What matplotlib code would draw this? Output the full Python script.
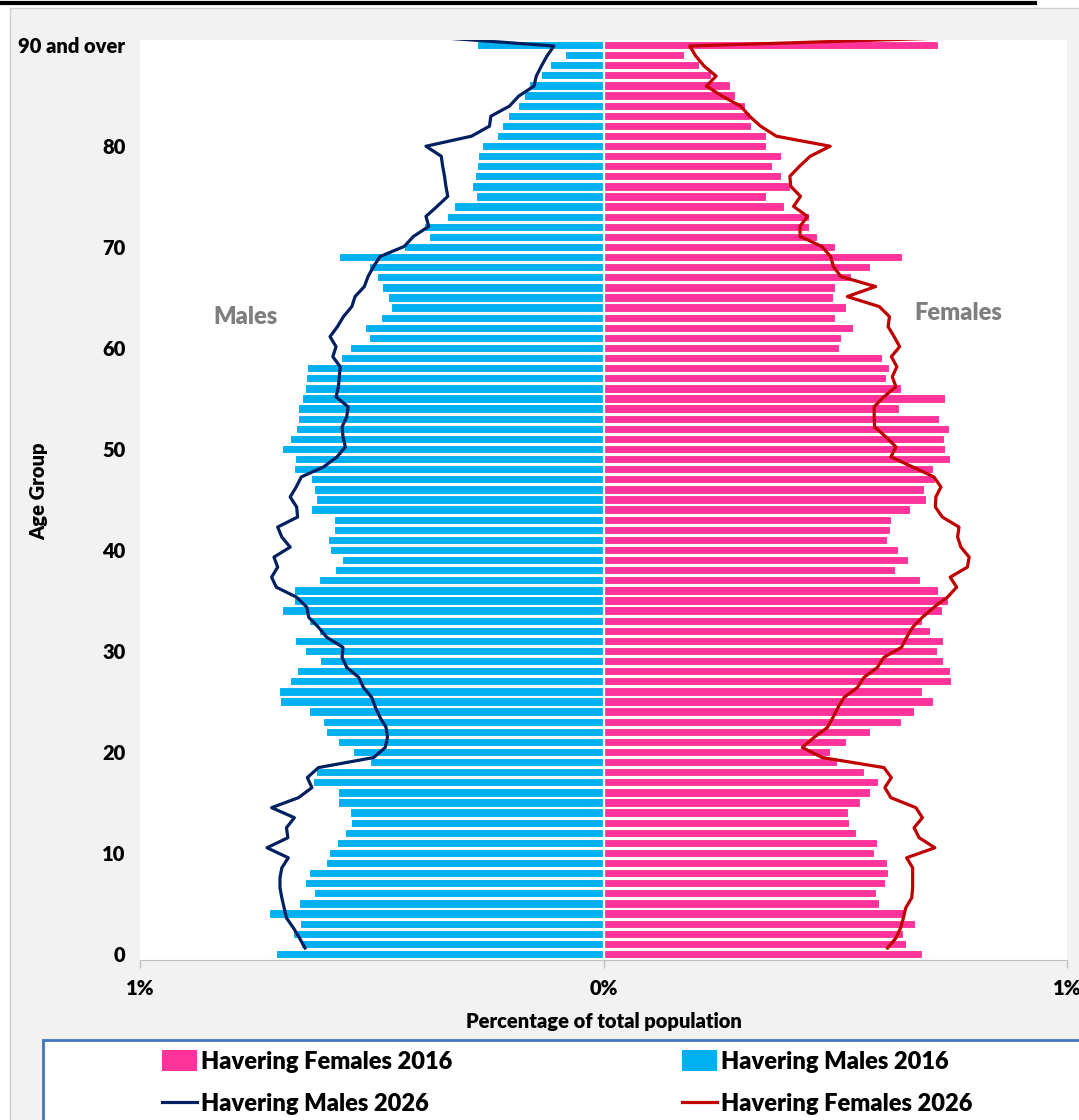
import numpy as np
import matplotlib
matplotlib.use("Agg")
import matplotlib.pyplot as plt
from matplotlib.patches import Rectangle, Patch
from matplotlib.lines import Line2D

plt.rcParams['font.family'] = ['Lato', 'DejaVu Sans']
BOLD = 'heavy'

# single years of age, 0 .. 90 (90 = "90 and over")
ages = np.arange(0, 91)

# % of total population, Havering 2016 (bars)
males_2016 = [0.706, 0.653, 0.669, 0.654, 0.721, 0.657, 0.624, 0.645, 0.635, 0.598,
              0.592, 0.576, 0.557, 0.544, 0.547, 0.572, 0.572, 0.627, 0.621, 0.503,
              0.540, 0.572, 0.598, 0.606, 0.635, 0.698, 0.700, 0.676, 0.662, 0.611,
              0.644, 0.665, 0.613, 0.636, 0.693, 0.667, 0.667, 0.613, 0.579, 0.564,
              0.590, 0.595, 0.582, 0.582, 0.631, 0.621, 0.625, 0.631, 0.667, 0.665,
              0.693, 0.677, 0.664, 0.660, 0.660, 0.650, 0.644, 0.641, 0.639, 0.567,
              0.547, 0.505, 0.515, 0.481, 0.459, 0.466, 0.477, 0.488, 0.505, 0.570,
              0.431, 0.377, 0.387, 0.338, 0.323, 0.276, 0.284, 0.277, 0.274, 0.271,
              0.262, 0.230, 0.218, 0.207, 0.184, 0.172, 0.161, 0.135, 0.115, 0.084,
              0.272]
females_2016 = [0.688, 0.652, 0.646, 0.673, 0.648, 0.594, 0.587, 0.607, 0.613, 0.611,
                0.583, 0.590, 0.544, 0.529, 0.528, 0.553, 0.575, 0.592, 0.562, 0.503,
                0.488, 0.523, 0.575, 0.641, 0.670, 0.711, 0.688, 0.749, 0.747, 0.732,
                0.719, 0.732, 0.704, 0.688, 0.731, 0.744, 0.721, 0.683, 0.629, 0.657,
                0.636, 0.611, 0.619, 0.621, 0.662, 0.695, 0.692, 0.716, 0.711, 0.747,
                0.737, 0.734, 0.746, 0.724, 0.637, 0.736, 0.641, 0.609, 0.617, 0.600,
                0.509, 0.513, 0.539, 0.500, 0.523, 0.495, 0.500, 0.535, 0.575, 0.643,
                0.500, 0.460, 0.443, 0.443, 0.389, 0.350, 0.402, 0.383, 0.363, 0.382,
                0.350, 0.351, 0.319, 0.315, 0.305, 0.283, 0.273, 0.232, 0.207, 0.173,
                0.722]

# projections 2026 (lines); the series runs one step past the top of the chart
line_ages = np.arange(0, 92)
males_2026 = [0.644, 0.656, 0.669, 0.684, 0.689, 0.694, 0.698, 0.698, 0.694, 0.680,
              0.726, 0.681, 0.684, 0.667, 0.716, 0.658, 0.629, 0.639, 0.615, 0.496,
              0.471, 0.466, 0.469, 0.482, 0.492, 0.500, 0.518, 0.528, 0.554, 0.564,
              0.562, 0.597, 0.615, 0.636, 0.640, 0.662, 0.706, 0.716, 0.703, 0.711,
              0.676, 0.694, 0.703, 0.660, 0.662, 0.676, 0.663, 0.652, 0.604, 0.575,
              0.557, 0.562, 0.564, 0.554, 0.551, 0.577, 0.572, 0.570, 0.568, 0.584,
              0.577, 0.590, 0.574, 0.561, 0.543, 0.536, 0.516, 0.508, 0.496, 0.482,
              0.430, 0.410, 0.377, 0.383, 0.359, 0.336, 0.340, 0.343, 0.347, 0.350,
              0.383, 0.285, 0.246, 0.243, 0.203, 0.183, 0.150, 0.145, 0.134, 0.122,
              0.107, 0.400]
females_2026 = [0.613, 0.631, 0.641, 0.647, 0.652, 0.665, 0.667, 0.667, 0.667, 0.654,
                0.715, 0.681, 0.670, 0.688, 0.674, 0.620, 0.607, 0.621, 0.605, 0.472,
                0.429, 0.454, 0.483, 0.495, 0.506, 0.519, 0.548, 0.562, 0.591, 0.605,
                0.643, 0.654, 0.667, 0.688, 0.713, 0.742, 0.762, 0.748, 0.785, 0.789,
                0.771, 0.764, 0.767, 0.731, 0.716, 0.717, 0.728, 0.713, 0.667, 0.620,
                0.631, 0.609, 0.585, 0.584, 0.584, 0.605, 0.631, 0.623, 0.633, 0.621,
                0.639, 0.627, 0.614, 0.617, 0.595, 0.526, 0.587, 0.512, 0.496, 0.490,
                0.471, 0.424, 0.424, 0.440, 0.410, 0.425, 0.404, 0.402, 0.423, 0.446,
                0.489, 0.373, 0.339, 0.315, 0.296, 0.256, 0.222, 0.243, 0.217, 0.199,
                0.186, 0.870]

ytick_vals = [0, 10, 20, 30, 40, 50, 60, 70, 80, 90]
ytick_labels = ['0', '10', '20', '30', '40', '50', '60', '70', '80', '90 and over']
xtick_vals = [-1, 0, 1]
xtick_labels = ['1%', '0%', '1%']

c_m16 = '#00b0f0'
c_f16 = '#ff3399'
c_m26 = '#002060'
c_f26 = '#c00000'

W, H = 1079, 1120
fig = plt.figure(figsize=(W / 100, H / 100), dpi=100)
fig.patch.set_facecolor('white')

# grey chart background + cut-off rule of the page above
fig.add_artist(Rectangle((10 / W, -0.01), 1.0, (H - 8) / H + 0.01, transform=fig.transFigure,
                         facecolor='#f2f2f2', edgecolor='#d0d0d0', lw=1, zorder=0))
fig.add_artist(Line2D([0, 1035 / W], [1 - 2.5 / H, 1 - 2.5 / H], color='black', lw=3,
                      transform=fig.transFigure))

ax = fig.add_axes([140 / W, 160 / H, 927 / W, 920 / H])
ax.set_facecolor('white')

ax.barh(ages, -np.array(males_2016), height=0.82, color=c_m16, edgecolor='white', linewidth=0.8)
ax.barh(ages, females_2016, height=0.82, color=c_f16, edgecolor='white', linewidth=0.8)
ax.axvline(0, color='white', lw=1.6, zorder=3)

ax.set_xlim(-1, 1)
ax.set_ylim(-0.6, 90.5)

ax.set_yticks(ytick_vals)
ax.set_yticklabels(ytick_labels, fontsize=14.5, fontweight=BOLD)
ax.tick_params(axis='y', length=0, pad=10.5)
ax.set_xticks(xtick_vals)
ax.set_xticklabels(xtick_labels, fontsize=14.5, fontweight=BOLD)
ax.tick_params(axis='x', length=6, width=1, color='#bfbfbf', pad=8)

for s in ['top', 'left', 'right']:
    ax.spines[s].set_visible(False)
ax.spines['bottom'].set_color('#bfbfbf')

ax.set_ylabel('Age Group', fontsize=14.5, fontweight=BOLD)
ax.yaxis.set_label_coords(-0.099, 0.51)
ax.set_xlabel('Percentage of total population', fontsize=14.5, fontweight=BOLD)
ax.xaxis.set_label_coords(0.5, -0.057)

ax.text(-0.772, 63.1, 'Males', color='#7f7f7f', fontsize=17, fontweight=BOLD,
        ha='center', va='center')
ax.text(0.766, 63.5, 'Females', color='#7f7f7f', fontsize=17, fontweight=BOLD,
        ha='center', va='center')

# 2026 lines sit on a secondary axis, as in the source workbook
ax2 = ax.twinx()
ax2.set_ylim(-1.2, 90.6)
ax2.set_axis_off()
ax2.plot(-np.array(males_2026), line_ages, color=c_m26, lw=2.3)
ax2.plot(females_2026, line_ages, color=c_f26, lw=2.3)

# legend box, running off the bottom right of the picture
fig.add_artist(Rectangle((43 / W, -0.02), 1.0, 80 / H + 0.02, transform=fig.transFigure,
                         facecolor='white', edgecolor='#4472c4', lw=2, zorder=1))

h_f16 = Patch(facecolor=c_f16, edgecolor='none', label='Havering Females 2016')
h_m16 = Patch(facecolor=c_m16, edgecolor='none', label='Havering Males 2016')
h_m26 = Line2D([], [], color=c_m26, lw=2.3, label='Havering Males 2026')
h_f26 = Line2D([], [], color=c_f26, lw=2.3, label='Havering Females 2026')

leg_kw = dict(loc='upper left', frameon=False, borderpad=0, borderaxespad=0,
              handlelength=1.5, handleheight=1.0, handletextpad=0.15, labelspacing=0.85,
              prop={'size': 17, 'weight': BOLD})
leg1 = fig.legend(handles=[h_f16, h_m26], bbox_to_anchor=(162 / W, (H - 1050) / H), **leg_kw)
leg2 = fig.legend(handles=[h_m16, h_f26], bbox_to_anchor=(682 / W, (H - 1050) / H), **leg_kw)
leg1.set_zorder(5)
leg2.set_zorder(5)

fig.savefig('out.png', dpi=100)
